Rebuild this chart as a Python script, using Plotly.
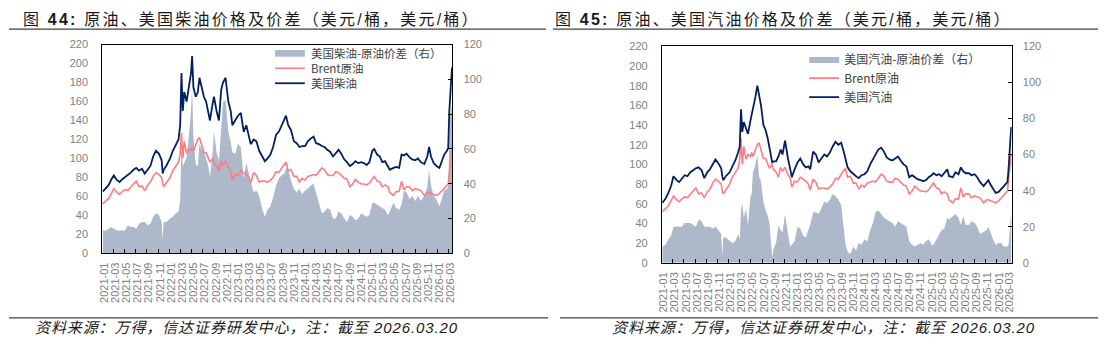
import plotly.graph_objects as go

# ---------------- data ----------------
dates = [
    # 2021
    "2021-01-04", "2021-01-20", "2021-02-05", "2021-02-20", "2021-03-05", "2021-03-22",
    "2021-04-05", "2021-04-20", "2021-05-05", "2021-05-20", "2021-06-05", "2021-06-20",
    "2021-07-05", "2021-07-20", "2021-08-05", "2021-08-20", "2021-09-05", "2021-09-20",
    "2021-10-05", "2021-10-20", "2021-11-05", "2021-11-20", "2021-11-26", "2021-12-01",
    "2021-12-15",
    # 2022
    "2022-01-05", "2022-01-20", "2022-02-05", "2022-02-20", "2022-03-01", "2022-03-08",
    "2022-03-15", "2022-03-23", "2022-04-05", "2022-04-15", "2022-04-29", "2022-05-05",
    "2022-05-12", "2022-05-25", "2022-06-05", "2022-06-14", "2022-06-25", "2022-07-08",
    "2022-07-20", "2022-08-01", "2022-08-10", "2022-08-25", "2022-09-01", "2022-09-15",
    "2022-09-28", "2022-10-10", "2022-10-20", "2022-11-03", "2022-11-18", "2022-12-01",
    "2022-12-10", "2022-12-25",
    # 2023
    "2023-01-10", "2023-01-25", "2023-02-10", "2023-02-24", "2023-03-10", "2023-03-20",
    "2023-04-05", "2023-04-20", "2023-05-05", "2023-05-20", "2023-06-05", "2023-06-20",
    "2023-07-05", "2023-07-20", "2023-08-05", "2023-08-20", "2023-09-05", "2023-09-20",
    "2023-09-28", "2023-10-10", "2023-10-25", "2023-11-10", "2023-11-25", "2023-12-10",
    "2023-12-25",
    # 2024
    "2024-01-10", "2024-01-25", "2024-02-10", "2024-02-25", "2024-03-10", "2024-03-25",
    "2024-04-10", "2024-04-25", "2024-05-10", "2024-05-25", "2024-06-10", "2024-06-25",
    "2024-07-10", "2024-07-25", "2024-08-10", "2024-08-25", "2024-09-10", "2024-09-25",
    "2024-10-10", "2024-10-25", "2024-11-10", "2024-11-25", "2024-12-10", "2024-12-25",
    # 2025
    "2025-01-10", "2025-01-20", "2025-02-05", "2025-02-20", "2025-03-05", "2025-03-20",
    "2025-04-05", "2025-04-15", "2025-05-05", "2025-05-20", "2025-06-05", "2025-06-18",
    "2025-07-01", "2025-07-15", "2025-08-01", "2025-08-15", "2025-09-01", "2025-09-15",
    "2025-10-01", "2025-10-20", "2025-11-05", "2025-11-15", "2025-11-25", "2025-12-10",
    "2025-12-25",
    # 2026
    "2026-01-10", "2026-01-25", "2026-02-05", "2026-02-20", "2026-02-27", "2026-03-05",
    "2026-03-10", "2026-03-16", "2026-03-20",
]

brent = [
    52, 55, 58, 63, 68, 64, 62, 65, 67, 66, 70, 73, 76, 70, 71, 66, 72, 75, 81, 85, 83, 80, 73, 70, 74,
    80, 87, 92, 96, 105, 127, 100, 118, 105, 110, 108, 112, 108, 114, 120, 122, 115, 106, 106, 100, 96,
    100, 95, 92, 87, 97, 93, 97, 90, 86, 77, 83,
    82, 87, 85, 83, 80, 74, 85, 82, 75, 76, 76, 75, 77, 80, 86, 85, 90, 94, 96, 87, 88, 81, 81, 75, 79,
    77, 81, 82, 83, 82, 86, 90, 88, 83, 82, 82, 86, 85, 82, 79, 78, 70, 73, 78, 75, 73, 73, 72, 74,
    79, 81, 76, 75, 70, 72, 70, 64, 61, 65, 65, 76, 67, 70, 70, 66, 68, 67, 66, 61, 64, 64, 63, 62, 61,
    63, 66, 68, 71, 73, 85, 95, 103, 110,
]

diesel = [
    65, 68, 72, 78, 82, 77, 75, 78, 80, 82, 85, 88, 90, 87, 89, 84, 88, 92, 102, 108, 105, 98, 84, 88, 92,
    100, 108, 115, 120, 135, 190, 150, 170, 160, 175, 190, 208, 175, 165, 170, 185, 175, 165, 160, 150,
    140, 158, 165, 150, 140, 172, 180, 185, 160, 150, 135, 140,
    145, 148, 128, 135, 125, 115, 120, 118, 108, 102, 97, 100, 104, 112, 125, 128, 135, 140, 145, 135,
    130, 118, 116, 112, 113,
    113, 118, 121, 123, 116, 115, 113, 112, 109, 107, 102, 106, 109, 105, 99, 96, 92, 94, 97, 95, 96, 95,
    93, 96,
    108, 110, 104, 102, 96, 97, 92, 88, 90, 91, 90, 104, 103, 105, 101, 99, 98, 100, 96, 94, 102, 112,
    102, 95, 92,
    90, 98, 104, 108, 111, 150, 175, 185, 196,
]

diesel_spread = [
    13, 13, 14, 15, 14, 13, 13, 13, 13, 16, 15, 15, 14, 17, 18, 18, 16, 17, 21, 23, 22, 18, 8, 18, 18,
    20, 21, 23, 24, 30, 63, 50, 52, 55, 65, 82, 96, 67, 51, 50, 63, 60, 59, 54, 50, 44, 58, 70, 58, 53,
    75, 87, 88, 70, 64, 58, 57,
    63, 61, 43, 52, 45, 41, 35, 36, 33, 26, 21, 25, 27, 32, 39, 43, 45, 46, 49, 48, 42, 37, 35, 37, 34,
    36, 37, 39, 40, 34, 29, 23, 24, 26, 25, 20, 20, 24, 23, 20, 18, 22, 21, 19, 20, 23, 22, 21, 22,
    29, 29, 28, 27, 26, 25, 22, 24, 29, 26, 25, 28, 36, 35, 31, 33, 30, 33, 30, 33, 38, 48, 39, 33, 31,
    27, 32, 36, 37, 38, 65, 80, 82, 86,
]

gasoline = [
    61, 65, 71, 78, 88, 84, 82, 85, 89, 88, 92, 94, 96, 97, 94, 86, 92, 95, 100, 105, 101, 96, 88, 84, 88,
    92, 98, 104, 112, 118, 156, 133, 143, 135, 131, 145, 150, 158, 168, 180, 170, 160, 140, 135, 126,
    118, 102, 103, 103, 108, 115, 110, 124, 107, 95, 87, 95,
    102, 106, 100, 97, 98, 95, 113, 110, 102, 106, 110, 108, 112, 118, 123, 120, 122, 112, 107, 97, 93,
    90, 88, 86, 89,
    90, 93, 100, 105, 110, 115, 117, 113, 107, 105, 104, 106, 108, 104, 100, 98, 87, 89, 87, 85, 84, 83,
    84, 87,
    89, 91, 89, 90, 88, 91, 95, 88, 87, 92, 90, 97, 93, 91, 91, 89, 90, 87, 82, 78, 82, 84, 80, 75, 71,
    72, 75, 77, 80, 82, 95, 115, 128, 138,
]

gasoline_spread = [
    9, 10, 13, 15, 20, 20, 20, 20, 22, 22, 22, 21, 20, 24, 23, 20, 20, 20, 19, 20, 18, 16, 4, 14, 14,
    12, 11, 12, 16, 13, 29, 33, 25, 30, 21, 37, 38, 50, 54, 60, 48, 45, 34, 29, 26, 22, 3, 8, 11, 21,
    18, 17, 27, 17, 9, 10, 12,
    20, 19, 15, 14, 18, 21, 28, 28, 27, 30, 34, 33, 35, 38, 37, 35, 32, 18, 11, 6, 5, 9, 7, 11, 10,
    13, 12, 18, 22, 28, 29, 27, 25, 24, 23, 22, 20, 23, 22, 21, 20, 12, 10, 9, 10, 11, 10, 12, 13,
    10, 10, 13, 15, 18, 19, 25, 24, 26, 27, 25, 21, 26, 21, 21, 23, 22, 20, 16, 17, 18, 20, 17, 13, 10,
    11, 11, 9, 9, 9, 10, 20, 25, 28,
]

left_ticks = list(range(0, 221, 20))
right_ticks = list(range(0, 121, 20))

titles = ["图 <b>44:</b> 原油、美国柴油价格及价差（美元/桶，美元/桶）",
          "图 <b>45:</b> 原油、美国汽油价格及价差（美元/桶，美元/桶）"]
source_text = "资料来源：万得，信达证券研发中心，注：截至 2026.03.20"
legend1_names = ["美国柴油-原油价差（右）", "Brent原油", "美国柴油"]
legend2_names = ["美国汽油-原油价差（右）", "Brent原油", "美国汽油"]

# ---------------- styling ----------------
W, H = 1108, 348
NAVY = "#002060"
PINK = "#FF7C80"
GREY = "#ADB9CA"
TICKC = "#7F7F7F"
LEGC = "#404040"
CJK = "Noto Sans CJK SC"
LAT = "Arial, Liberation Sans, " + CJK


def px_x(p):
    return p / W


def px_y(p):
    return 1 - p / H


fig = go.Figure()

# panel 1 (diesel) -- legend drawn by hand below (tighter rows than plotly's legend)
fig.add_trace(go.Scatter(x=dates, y=diesel_spread, name=legend1_names[0], mode="lines",
                         line=dict(width=0, color=GREY), fill="tozeroy", fillcolor=GREY,
                         xaxis="x", yaxis="y", showlegend=False))
fig.add_trace(go.Scatter(x=dates, y=brent, name=legend1_names[1], mode="lines",
                         line=dict(width=1.6, color=PINK), xaxis="x", yaxis="y2", showlegend=False))
fig.add_trace(go.Scatter(x=dates, y=diesel, name=legend1_names[2], mode="lines",
                         line=dict(width=1.8, color=NAVY), xaxis="x", yaxis="y2", showlegend=False))

# panel 2 (gasoline)
fig.add_trace(go.Scatter(x=dates, y=gasoline_spread, name=legend2_names[0], mode="lines",
                         line=dict(width=0, color=GREY), fill="tozeroy", fillcolor=GREY,
                         xaxis="x2", yaxis="y3", legend="legend2"))
fig.add_trace(go.Scatter(x=dates, y=brent, name=legend2_names[1], mode="lines",
                         line=dict(width=1.6, color=PINK), xaxis="x2", yaxis="y4", legend="legend2"))
fig.add_trace(go.Scatter(x=dates, y=gasoline, name=legend2_names[2], mode="lines",
                         line=dict(width=1.8, color=NAVY), xaxis="x2", yaxis="y4", legend="legend2"))

xcommon = dict(type="date", range=["2021-01-01", "2026-03-22"], tick0="2021-01-01", dtick="M2",
               tickformat="%Y-%m", tickangle=-90, ticks="inside", ticklen=4, tickcolor="#000000",
               tickwidth=1, showline=True, linecolor="#000000", linewidth=1, mirror=True,
               showgrid=False, zeroline=False, ticklabelstandoff=4, ticklabelshift=2,
               tickfont=dict(family=LAT, size=11, color=TICKC))
right_common = dict(range=[0, 120], tickvals=right_ticks, side="right", ticks="inside", ticklen=4,
                    tickcolor="#000000", showline=True, linecolor="#000000", linewidth=1,
                    showgrid=False, zeroline=False, ticklabelstandoff=8,
                    tickfont=dict(family=LAT, size=11, color=TICKC))
left_common = dict(range=[0, 220], tickvals=left_ticks, side="left", ticks="", showline=True,
                   linecolor="#000000", linewidth=1, showgrid=False, zeroline=False,
                   ticklabelstandoff=11, tickfont=dict(family=LAT, size=11, color=TICKC))

p1x = [px_x(99), px_x(451.7)]
p1y = [px_y(256), px_y(40)]
p2x = [px_x(662.7), px_x(1015)]
p2y = [px_y(266), px_y(41.7)]

fig.update_layout(
    width=W, height=H, margin=dict(l=0, r=0, t=0, b=0),
    paper_bgcolor="white", plot_bgcolor="rgba(0,0,0,0)",
    showlegend=True,
    xaxis=dict(domain=p1x, anchor="y", **xcommon),
    yaxis=dict(domain=p1y, anchor="x", **right_common),
    yaxis2=dict(overlaying="y", anchor="x", **left_common),
    xaxis2=dict(domain=p2x, anchor="y3", **xcommon),
    yaxis3=dict(domain=p2y, anchor="x2", **right_common),
    yaxis4=dict(overlaying="y3", anchor="x2", **left_common),
    legend2=dict(x=px_x(806), y=px_y(40), xanchor="left", yanchor="top", bgcolor="rgba(0,0,0,0)",
                 font=dict(family=CJK, size=12, color=LEGC), tracegroupgap=0, itemwidth=30),
)

annotations = []
for tx, xs in zip(titles, [17, 553]):
    annotations.append(dict(text='<span style="letter-spacing:2.2px">' + tx + "</span>",
                            x=px_x(xs), y=px_y(14), xref="paper", yref="paper",
                            xanchor="left", yanchor="middle", showarrow=False,
                            font=dict(family="Arial, " + CJK, size=16, color="#1a1a1a")))
for xc in [244, 825]:
    annotations.append(dict(text='<span style="letter-spacing:0.9px"><i>' + source_text + "</i></span>",
                            x=px_x(xc), y=px_y(333),
                            xref="paper", yref="paper", xanchor="center", yanchor="middle",
                            showarrow=False,
                            font=dict(family="Arial, " + CJK, size=15, color="#1a1a1a")))

# hand-drawn legend for panel 1
leg_rows_y = [49, 64.5, 80]
for name, yy in zip(legend1_names, leg_rows_y):
    annotations.append(dict(text=name, x=px_x(307), y=px_y(yy), xref="paper", yref="paper",
                            xanchor="left", yanchor="middle", showarrow=False,
                            font=dict(family=CJK, size=11.5, color=LEGC)))
fig.update_layout(annotations=annotations)

shapes = []
for x0, x1 in [(5, 546), (553, 1102)]:
    shapes.append(dict(type="line", xref="paper", yref="paper", x0=px_x(x0), x1=px_x(x1),
                       y0=px_y(24), y1=px_y(24), line=dict(color="#404040", width=1.2)))
for x0, x1 in [(5, 548), (560, 1102)]:
    shapes.append(dict(type="line", xref="paper", yref="paper", x0=px_x(x0), x1=px_x(x1),
                       y0=px_y(323), y1=px_y(323), line=dict(color="#404040", width=1.2)))
# legend symbols for panel 1
shapes.append(dict(type="rect", xref="paper", yref="paper", x0=px_x(273), x1=px_x(303),
                   y0=px_y(52.5), y1=px_y(45.5), line=dict(width=0), fillcolor=GREY))
shapes.append(dict(type="line", xref="paper", yref="paper", x0=px_x(273), x1=px_x(303),
                   y0=px_y(leg_rows_y[1]), y1=px_y(leg_rows_y[1]), line=dict(color=PINK, width=1.6)))
shapes.append(dict(type="line", xref="paper", yref="paper", x0=px_x(273), x1=px_x(303),
                   y0=px_y(leg_rows_y[2]), y1=px_y(leg_rows_y[2]), line=dict(color=NAVY, width=1.8)))
fig.update_layout(shapes=shapes)

fig.write_html("out.html")
